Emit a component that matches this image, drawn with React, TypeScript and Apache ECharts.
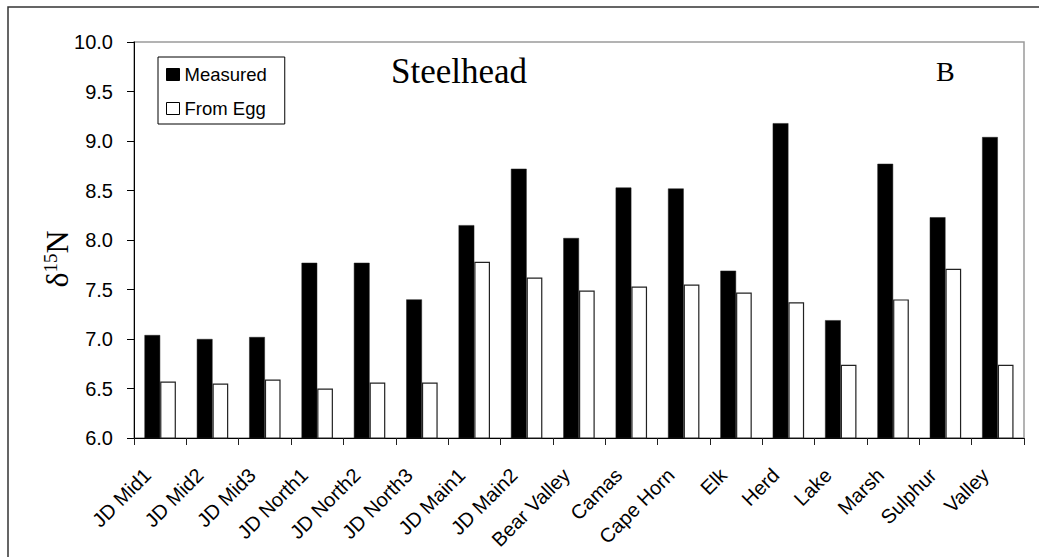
import React, { useEffect, useRef } from "react";
import * as echarts from "echarts";

// Sites along the x axis
const categories = [
  "JD Mid1", "JD Mid2", "JD Mid3", "JD North1", "JD North2", "JD North3",
  "JD Main1", "JD Main2", "Bear Valley", "Camas", "Cape Horn", "Elk",
  "Herd", "Lake", "Marsh", "Sulphur", "Valley",
];

// δ15N measured in juveniles
const measured = [
  7.04, 7.0, 7.02, 7.77, 7.77, 7.4, 8.15, 8.72, 8.02, 8.53, 8.52, 7.69,
  9.18, 7.19, 8.77, 8.23, 9.04,
];

// δ15N predicted from the egg
const fromEgg = [
  6.57, 6.55, 6.59, 6.5, 6.56, 6.56, 7.78, 7.62, 7.49, 7.53, 7.55, 7.47,
  7.37, 6.74, 7.4, 7.71, 6.74,
];

const seriesNames = ["Measured", "From Egg"];
const SANS = '"Liberation Sans", Arial, sans-serif';
const SERIF = '"Liberation Serif", "Times New Roman", serif';

export default function App() {
  const ref = useRef<HTMLDivElement>(null);

  useEffect(() => {
    if (!ref.current) return;
    const chart = echarts.init(ref.current, null, { renderer: "svg" });
    chart.setOption({
      animation: false,
      backgroundColor: "#fff",
      grid: {
        left: 134,
        right: 15,
        top: 42,
        bottom: 119,
        show: true,
        borderColor: "#9a9a9a",
        borderWidth: 1.5,
      },
      legend: {
        orient: "vertical",
        left: 158,
        top: 57,
        icon: "rect",
        itemWidth: 13,
        itemHeight: 12,
        itemGap: 15,
        padding: [8, 18, 6, 8],
        borderColor: "#000",
        borderWidth: 1,
        backgroundColor: "#fff",
        textStyle: { fontFamily: SANS, fontSize: 18.5, lineHeight: 18, color: "#000" },
        data: [
          { name: seriesNames[0], itemStyle: { color: "#000", borderColor: "#000", borderWidth: 1 } },
          { name: seriesNames[1], itemStyle: { color: "#fff", borderColor: "#000", borderWidth: 1 } },
        ],
      },
      xAxis: {
        type: "category",
        data: categories,
        axisLine: { lineStyle: { color: "#000", width: 1 } },
        axisTick: { show: true, length: 7, lineStyle: { color: "#222" } },
        axisLabel: {
          interval: 0,
          rotate: 45,
          margin: 21,
          color: "#000",
          formatter: (v: string) => `{t|${v}}`,
          rich: {
            t: {
              fontFamily: SANS,
              fontSize: 20,
              color: "#000",
              padding: [0, 18, 0, 0],
            },
          },
        },
      },
      yAxis: {
        type: "value",
        min: 6,
        max: 10,
        interval: 0.5,
        axisLine: { show: true, lineStyle: { color: "#000", width: 1 } },
        axisTick: { show: true, length: 7, lineStyle: { color: "#000" } },
        splitLine: { show: false },
        axisLabel: {
          margin: 21,
          fontFamily: SANS,
          fontSize: 20,
          color: "#000",
          formatter: (v: number) => v.toFixed(1),
        },
      },
      series: [
        {
          name: seriesNames[0],
          type: "bar",
          data: measured,
          barGap: "0%",
          barCategoryGap: "40%",
          itemStyle: { color: "#000", borderColor: "#222", borderWidth: 0.5 },
        },
        {
          name: seriesNames[1],
          type: "bar",
          data: fromEgg,
          barGap: "0%",
          barCategoryGap: "40%",
          itemStyle: { color: "#fff", borderColor: "#222", borderWidth: 1.2 },
        },
      ],
      graphic: [
        {
          type: "rect",
          silent: true,
          shape: { x: 8, y: 7, width: 1200, height: 800 },
          style: { fill: "none", stroke: "#333", lineWidth: 1.5 },
        },
        {
          type: "text",
          x: 391,
          y: 71.5,
          style: {
            text: "Steelhead",
            fontFamily: SERIF,
            fontSize: 35,
            fill: "#000",
            align: "left",
            verticalAlign: "middle",
          },
        },
        {
          type: "text",
          x: 936,
          y: 71.5,
          style: {
            text: "B",
            fontFamily: SERIF,
            fontSize: 28,
            fill: "#000",
            align: "left",
            verticalAlign: "middle",
          },
        },
        {
          type: "text",
          x: 57,
          y: 259,
          rotation: Math.PI / 2,
          style: {
            text: "{a|δ}{s|15}{a|N}",
            fill: "#000",
            align: "center",
            verticalAlign: "middle",
            rich: {
              a: { fontFamily: SERIF, fontSize: 32, fill: "#000", verticalAlign: "middle" },
              s: { fontFamily: SERIF, fontSize: 19, fill: "#000", verticalAlign: "top" },
            },
          },
        },
      ],
    });
    return () => chart.dispose();
  }, []);

  return (
    <div
      ref={ref}
      style={{ position: "absolute", left: 0, top: 0, width: 1039, height: 557 }}
    />
  );
}
